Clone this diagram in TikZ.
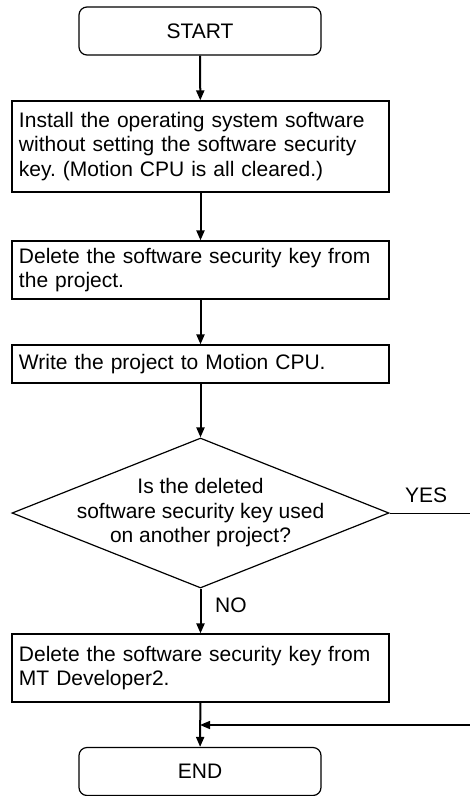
\documentclass[tikz,border=0pt]{standalone}
\usepackage{fontspec}
\setmainfont{Liberation Sans}
\usetikzlibrary{
    arrows.meta,
    positioning,
    shapes.geometric
}
\frenchspacing

\begin{document}
\begin{tikzpicture}[x=1pt,y=-1pt,
    font=\fontsize{21}{24.5}\selectfont,
    terminal/.style={draw,line width=1.2pt,rounded corners=8pt,
        minimum width=242pt,minimum height=48pt,inner sep=0pt},
    stepbox/.style={draw,line width=1.2pt,text width=363pt,
        inner xsep=7pt,inner ysep=0pt,align=left},
    decision/.style={draw,diamond,line width=1.2pt,
        minimum width=377pt,minimum height=150pt,inner sep=0pt},
    flow/.style={line width=2pt,-{Triangle[length=10pt,width=8pt]}}]

\useasboundingbox (0,0) rectangle (470,796);

% Terminals
\node[terminal] (start) at (200,31) {START};
\node[terminal] (end) at (200,771.5) {END};

% Steps
\node[stepbox,minimum height=91pt] (install) at (200.5,146.5)
    {Install the operating system software\\
     without setting the software security\\
     key. (Motion CPU is all cleared.)};
\node[stepbox,minimum height=58pt] (delproj) at (200.5,270)
    {Delete the software security key from\\the project.};
\node[stepbox,minimum height=38pt] (write) at (200.5,364)
    {Write the project to Motion CPU.};
\node[decision] (used) at (200.5,513) {};
\node[align=center] (usedtext) at (200.5,513)
    {Is the deleted\\software security key used\\on another project?};
\node[stepbox,minimum height=68pt] (delmt) at (200.5,668)
    {Delete the software security key from\\MT Developer2.};

% Branch labels
\node[anchor=west,inner sep=0pt] (yes) at (405,495.5) {YES};
\node[anchor=west,inner sep=0pt] (no) at (215,605.5) {NO};

% Connectors
\draw[flow] (start) -- (install);
\draw[flow] (install) -- (delproj);
\draw[flow] (delproj) -- (write);
\draw[flow] (write) -- (used);
\draw[flow] (used) -- (delmt);
\draw[flow] (delmt) -- (end);

\coordinate (yesend) at (470,513);
\coordinate (backin) at (470,725);
\coordinate (merge) at (200,725);
\draw[line width=1pt] (used.east) -- (yesend);
\draw[line width=1.5pt,-{Triangle[length=10pt,width=8pt]}] (backin) -- (merge);

\end{tikzpicture}
\end{document}
